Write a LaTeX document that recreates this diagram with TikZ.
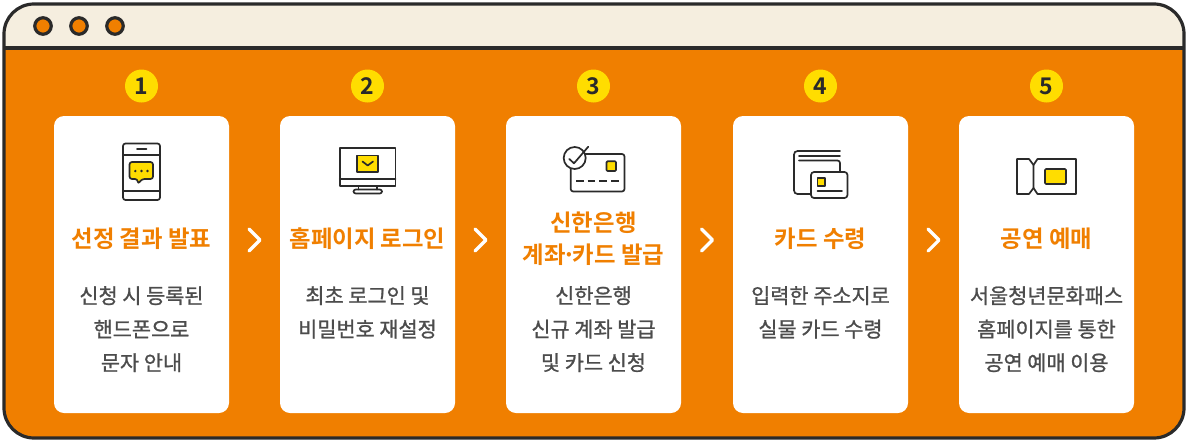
\documentclass[tikz,border=0pt]{standalone}
\usepackage{fontspec}
\setmainfont{Noto Sans CJK KR}
\newfontfamily\bodyfont{Noto Sans CJK KR}[FakeBold=1.0]
\newfontfamily\titlefont{Noto Sans CJK KR Bold}
\definecolor{orng}{HTML}{F07F00}
\definecolor{ink}{HTML}{2A2A2A}
\definecolor{cream}{HTML}{F5EEDF}
\definecolor{yel}{HTML}{FFDD00}
\definecolor{bodygray}{HTML}{4C4C4C}
\tikzset{
  x=1pt,y=-1pt,
  cardbox/.style={fill=white,rounded corners=10pt,minimum width=175pt,minimum height=297pt,inner sep=0pt,outer sep=0pt},
  badge/.style={circle,fill=yel,minimum size=33pt,inner sep=0pt,text=ink,font=\titlefont\fontsize{23pt}{23pt}\selectfont},
  headtext/.style={text=orng,align=center,inner sep=0pt,font=\titlefont\fontsize{23.4pt}{31.5pt}\selectfont},
  bodytext/.style={text=bodygray,align=center,inner sep=0pt,anchor=north,font=\bodyfont\fontsize{20.8pt}{33.5pt}\selectfont},
  winbtn/.style={circle,draw=ink,fill=orng,line width=3.2pt,minimum size=16.5pt,inner sep=0pt},
  chev/.style={draw=white,line width=3.2pt,line cap=round,line join=round},
  icon/.style={draw=ink,line width=1.7pt,line join=round,line cap=round},
  iconfill/.style={icon,fill=yel},
}
\begin{document}
\begin{tikzpicture}
\useasboundingbox (0,0) rectangle (1186,442);
% window
\fill[orng,rounded corners=30pt] (4,4) rectangle (1184,438);
\fill[cream] (4,34) [rounded corners=30pt] -- (4,4) -- (1184,4) [sharp corners] -- (1184,34) -- (1184,48) -- (4,48) -- cycle;
\draw[ink,line width=3.2pt,rounded corners=30pt] (4,4) rectangle (1184,438);
\draw[ink,line width=3.2pt] (4,48) -- (1184,48);
\node[winbtn] (b1) at (43,26) {};
\node[winbtn] (b2) at (79,26) {};
\node[winbtn] (b3) at (115,26) {};
% cards
\node[cardbox] (c1) at (141.5,264.5) {};
\node[cardbox] (c2) at (367.5,264.5) {};
\node[cardbox] (c3) at (593.5,264.5) {};
\node[cardbox] (c4) at (820.5,264.5) {};
\node[cardbox] (c5) at (1046.5,264.5) {};
% badges
\node[badge] (n1) at (141.5,86) {1};
\node[badge] (n2) at (367.5,86) {2};
\node[badge] (n3) at (593.5,86) {3};
\node[badge] (n4) at (820.5,86) {4};
\node[badge] (n5) at (1046.5,86) {5};
% chevrons
\draw[chev] (249,229) -- (260,240) -- (249,251);
\draw[chev] (475,229) -- (486,240) -- (475,251);
\draw[chev] (701.5,229) -- (712.5,240) -- (701.5,251);
\draw[chev] (928,229) -- (939,240) -- (928,251);
% titles
\node[headtext] (t1) at (141.5,238.5) {선정 결과 발표};
\node[headtext] (t2) at (367.5,238.5) {홈페이지 로그인};
\node[headtext] (t3) at (593.5,238.5) {신한은행\\계좌\hspace{-3.5pt}·\hspace{-3.5pt}카드 발급};
\node[headtext] (t4) at (820.5,238.5) {카드 수령};
\node[headtext] (t5) at (1046.5,238.5) {공연 예매};
% body
\node[bodytext] (d1) at (141.5,286) {신청 시 등록된\\핸드폰으로\\문자 안내};
\node[bodytext] (d2) at (367.5,286) {최초 로그인 및\\비밀번호 재설정};
\node[bodytext] (d3) at (593.5,286) {신한은행\\신규 계좌 발급\\및 카드 신청};
\node[bodytext] (d4) at (820.5,286) {입력한 주소지로\\실물 카드 수령};
\node[bodytext] (d5) at (1046.5,286) {서울청년문화패스\\홈페이지를 통한\\공연 예매 이용};
% icon 1: phone
\draw[icon,rounded corners=2.5pt] (123,143.5) rectangle (160,200);
\draw[icon] (123,155) -- (160,155) (123,191) -- (160,191) (137,149.3) -- (146.5,149.3);
\draw[iconfill,rounded corners=2.5pt] (129.5,162) -- (153,162) -- (153,179) -- (142,179) -- (138,184) -- (137.5,179) -- (129.5,179) -- cycle;
\fill[ink] (135.3,171) circle (1.3) (141.5,171) circle (1.3) (147.5,171) circle (1.3);
% icon 2: monitor
\draw[icon] (339.8,148) rectangle (395.5,186);
\draw[icon] (339.8,179) -- (395.5,179);
\draw[icon] (358.5,186) -- (358.5,189.5) (377,186) -- (377,189.5);
\draw[icon,rounded corners=2.2pt] (353.5,189.5) rectangle (382,193.5);
\draw[iconfill] (357.3,155.5) rectangle (378,172);
\draw[icon] (362.5,161.5) -- (367.7,165.5) -- (373,161.5);
% icon 3: credit card and check
\draw[icon,rounded corners=2.5pt] (570.7,154) rectangle (624.5,191.5);
\draw[icon,fill=white] (574.7,158) circle (11);
\draw[icon] (569.3,159) -- (574,163.3) -- (588.3,146.7);
\draw[iconfill,rounded corners=1pt] (606.5,161.3) rectangle (616,171);
\draw[icon,line cap=butt,dash pattern=on 7.5pt off 4.2pt] (576,180.7) -- (619,180.7);
% icon 4: cards
\draw[icon,rounded corners=3.5pt] (840,151) -- (794,151) -- (794,194) -- (811,194);
\draw[icon] (799,155.8) -- (840,155.8);
\draw[icon,rounded corners=2.5pt] (799,160.5) -- (840,160.5) -- (840,172);
\draw[icon,fill=white,rounded corners=3pt] (811,172) rectangle (847.5,198);
\draw[iconfill] (817.5,178) rectangle (825,186);
\draw[icon] (817.5,191) -- (842,191);
% icon 5: ticket
\draw[icon] (1017,159) -- (1029,159) -- (1033.5,165) -- (1033.5,188) -- (1029,194) -- (1017,194) -- cycle;
\draw[icon] (1033.5,165) -- (1037.5,159) -- (1076,159) -- (1076,194) -- (1037.5,194) -- (1033.5,188);
\draw[iconfill,rounded corners=1pt] (1045,169) rectangle (1066,184);
\end{tikzpicture}
\end{document}
